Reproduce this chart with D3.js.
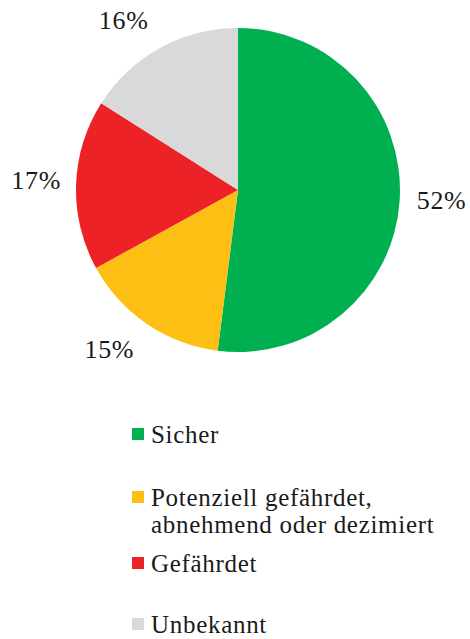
<!DOCTYPE html>
<html>
<head>
<meta charset="utf-8">
<script src="https://cdn.jsdelivr.net/npm/d3@7"></script>
<style>
  body { margin: 0; background: #fff; }
</style>
</head>
<body>
<div class="chart"></div>
<script>
// Data
var categories = ["Sicher", "Potenziell gefährdet, abnehmend oder dezimiert", "Gefährdet", "Unbekannt"];
var values = [52, 15, 17, 16];
var legendLines = [["Sicher"], ["Potenziell gefährdet,", "abnehmend oder dezimiert"], ["Gefährdet"], ["Unbekannt"]];
var colors = ["#00b050", "#fdbf14", "#ed2226", "#d9d9d9"];

var width = 470,
    height = 639,
    cx = 238,
    cy = 190,
    radius = 162;

var font = "Liberation Serif";

// Small shifts of the percent labels, as the best-fit placement in the original
var labelNudge = [[0, -3], [-14, -10], [2, -3], [-16, 9]];

var svg = d3.select(".chart")
    .append("svg")
    .attr("width", width)
    .attr("height", height)

var g = svg.append("g")
    .attr("transform", "translate(" + cx + "," + cy + ")")

var data = categories.map((c, i) => { return { name: c, value: values[i], color: colors[i] } })

// Slices go clockwise from 12 o'clock, in the given order
var pie = d3.pie()
    .sort(null)
    .value((d) => { return d.value })

var arc = d3.arc()
    .innerRadius(0)
    .outerRadius(radius)

var labelArc = d3.arc()
    .innerRadius(204)
    .outerRadius(204)

var arcs = pie(data)

g.selectAll("path")
    .data(arcs)
    .enter()
    .append("path")
    .attr("d", arc)
    .attr("fill", (d) => { return d.data.color })

g.selectAll("text.pct")
    .data(arcs)
    .enter()
    .append("text")
    .attr("class", "pct")
    .attr("transform", (d, i) => {
        var c = labelArc.centroid(d)
        return "translate(" + (c[0] + labelNudge[i][0]) + "," + (c[1] + labelNudge[i][1]) + ")"
    })
    .attr("text-anchor", "middle")
    .attr("dy", "0.34em")
    .attr("font-family", font)
    .attr("font-size", "26px")
    .attr("letter-spacing", "0.7px")
    .attr("fill", "#1a1a1a")
    .text((d) => { return d.data.value + "%" })

// Legend below the pie
var legendY = [443, 506, 572, 633];
var lineHeight = 27;

var legend = svg.selectAll("g.legend")
    .data(data)
    .enter()
    .append("g")
    .attr("class", "legend")
    .attr("transform", (d, i) => { return "translate(132," + legendY[i] + ")" })

legend.append("rect")
    .attr("x", 0)
    .attr("y", -15)
    .attr("width", 12)
    .attr("height", 12)
    .attr("fill", (d) => { return d.color })

legend.append("text")
    .attr("x", 19)
    .attr("font-family", font)
    .attr("font-size", "25px")
    .attr("letter-spacing", "0.7px")
    .attr("fill", "#1a1a1a")
    .selectAll("tspan")
    .data((d, i) => { return legendLines[i] })
    .enter()
    .append("tspan")
    .attr("x", 19)
    .attr("y", (d, j) => { return j * lineHeight })
    .text((d) => { return d })
</script>
</body>
</html>
